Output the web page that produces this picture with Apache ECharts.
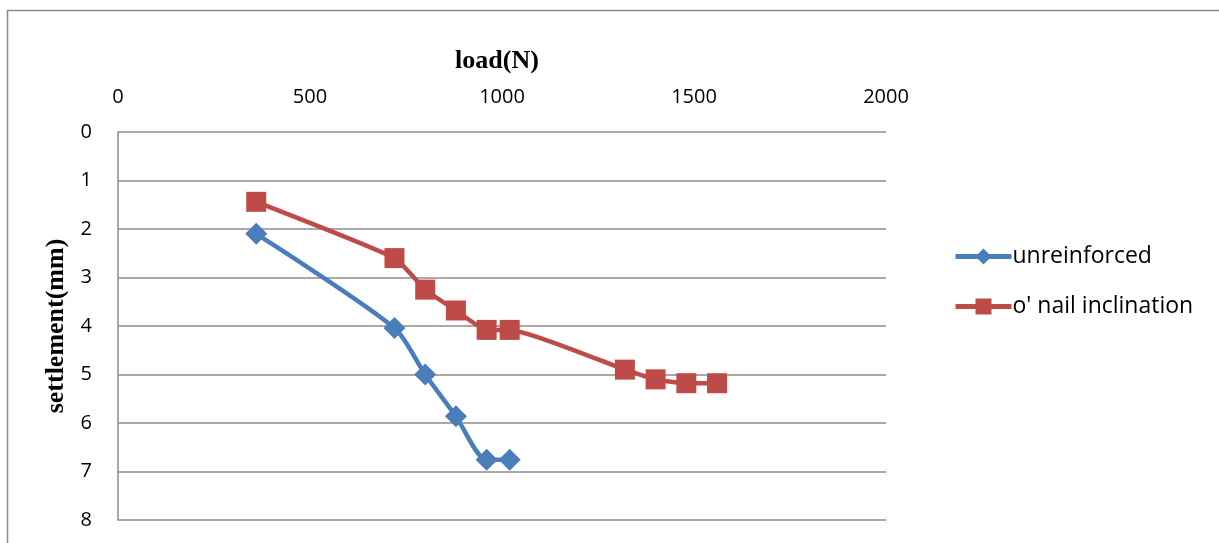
<!DOCTYPE html>
<html>
<head>
<meta charset="utf-8">
<script src="https://cdn.jsdelivr.net/npm/echarts@6/dist/echarts.min.js"></script>
<style>
  html, body { margin: 0; padding: 0; background: #fff; }
  #chart { width: 1219px; height: 543px; }
</style>
</head>
<body>
<div id="chart"></div>
<script>
// Load (N) against settlement (mm)
const unreinforcedLoad = [360, 720, 800, 880, 960, 1020];
const unreinforcedSettlement = [2.1, 4.04, 5.0, 5.86, 6.76, 6.76];
const nailLoad = [360, 720, 800, 880, 960, 1020, 1320, 1400, 1480, 1560];
const nailSettlement = [1.44, 2.6, 3.25, 3.68, 4.08, 4.08, 4.9, 5.1, 5.18, 5.18];
const seriesNames = ['unreinforced', "o' nail inclination"];
const seriesColors = ['#4a7ebb', '#be4b48'];

const pairs = (xs, ys) => xs.map((x, i) => [x, ys[i]]);

const tickFont = { fontFamily: 'Open Sans', fontSize: 20, color: '#000' };
const titleFont = { fontFamily: 'Liberation Serif', fontWeight: 'bold', fontSize: 26, color: '#000' };

const chart = echarts.init(document.getElementById('chart'));
chart.setOption({
  animation: false,
  backgroundColor: '#fff',
  graphic: [{
    type: 'rect',
    shape: { x: 7.5, y: 10.5, width: 1400, height: 700 },
    style: { fill: 'none', stroke: '#8c8c8c', lineWidth: 1.5 },
    silent: true
  }],
  grid: { left: 118, top: 132, width: 768, height: 388 },
  legend: {
    orient: 'vertical',
    left: 948,
    top: 240,
    itemGap: 27,
    itemWidth: 56,
    itemHeight: 20,
    textStyle: { fontFamily: 'Open Sans', fontSize: 23, color: '#000', padding: [0, 0, 0, -4] },
    data: seriesNames.map((n, i) => ({
      name: n,
      lineStyle: { width: 5, color: seriesColors[i] }
    }))
  },
  xAxis: {
    type: 'value',
    position: 'top',
    min: 0, max: 2000, interval: 500,
    name: 'load(N)',
    nameLocation: 'middle',
    nameGap: 58,
    nameTextStyle: Object.assign({}, titleFont, { padding: [0, 10, 0, 0] }),
    axisLine: { show: false },
    axisTick: { show: false },
    splitLine: { show: false },
    axisLabel: Object.assign({}, tickFont, { margin: 25, formatter: v => String(v) })
  },
  yAxis: {
    type: 'value',
    inverse: true,
    min: 0, max: 8, interval: 1,
    name: 'settlement(mm)',
    nameLocation: 'middle',
    nameGap: 45,
    nameTextStyle: titleFont,
    axisLine: { show: true, lineStyle: { color: '#8c8c8c', width: 1.5 } },
    axisTick: { show: false },
    splitLine: { show: true, lineStyle: { color: '#8c8c8c', width: 1.5 } },
    axisLabel: Object.assign({}, tickFont, { margin: 26 })
  },
  series: [
    {
      name: seriesNames[0],
      type: 'line',
      smooth: 0.25,
      data: pairs(unreinforcedLoad, unreinforcedSettlement),
      symbol: 'diamond',
      symbolSize: 22,
      itemStyle: { color: seriesColors[0] },
      lineStyle: { color: seriesColors[0], width: 4.5 }
    },
    {
      name: seriesNames[1],
      type: 'line',
      smooth: 0.15,
      data: pairs(nailLoad, nailSettlement),
      symbol: 'rect',
      symbolSize: 20,
      itemStyle: { color: seriesColors[1] },
      lineStyle: { color: seriesColors[1], width: 4.5 }
    }
  ]
});
</script>
</body>
</html>
